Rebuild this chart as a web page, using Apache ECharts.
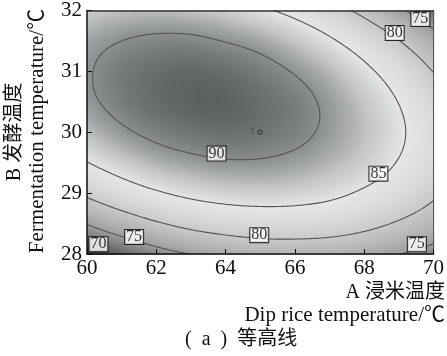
<!DOCTYPE html>
<html><head><meta charset="utf-8">
<script src="https://cdn.jsdelivr.net/npm/echarts/dist/echarts.min.js"></script>
<style>html,body{margin:0;padding:0;background:#fff}#c{width:447px;height:356px}</style>
</head><body><div id="c"></div>
<script>
// ---- data ----
const dipRiceTemp = [60, 61, 62, 63, 64, 65, 66, 67, 68, 69, 70];        // A, °C
const fermentTemp = [28, 28.5, 29, 29.5, 30, 30.5, 31, 31.5, 32];        // B, °C
// estimated response (one row per fermentation temperature, columns follow dipRiceTemp)
const respB280 = [68.5, 71.2, 73.4, 75.1, 76.3, 77.1, 77.3, 77.1, 76.4, 75.1, 73.4];
const respB285 = [75.2, 77.6, 79.6, 81.1, 82.0, 82.5, 82.5, 82.1, 81.1, 79.6, 77.7];
const respB290 = [80.7, 82.9, 84.6, 85.8, 86.5, 86.7, 86.5, 85.8, 84.5, 82.8, 80.6];
const respB295 = [84.9, 86.8, 88.3, 89.2, 89.7, 89.7, 89.2, 88.2, 86.8, 84.8, 82.4];
const respB300 = [87.8, 89.5, 90.7, 91.4, 91.7, 91.4, 90.7, 89.4, 87.7, 85.5, 82.8];
const respB305 = [89.4, 90.9, 91.9, 92.4, 92.4, 91.8, 90.9, 89.4, 87.4, 84.9, 82.0];
const respB310 = [89.7, 91.1, 91.8, 92.1, 91.8, 91.0, 89.8, 88.1, 85.8, 83.1, 79.9];
const respB315 = [89.0, 90.0, 90.5, 90.5, 89.9, 89.0, 87.5, 85.5, 83.0, 80.1, 76.6];
const respB320 = [87.0, 87.7, 87.9, 87.6, 86.9, 85.6, 83.9, 81.7, 78.9, 75.7, 72.0];
const responseRows = [respB280, respB285, respB290, respB295, respB300, respB305, respB310, respB315, respB320];

const contourLevels = [70, 75, 80, 85, 90];
const xTickValues = [60, 62, 64, 66, 68, 70];
const yTickValues = [28, 29, 30, 31, 32];
// contour label boxes
const labelDip  = [63.74, 68.41, 68.88, 69.62, 64.97, 61.36, 60.33, 69.52];
const labelFerm = [29.65, 29.32, 31.63, 31.86, 28.31, 28.28, 28.16, 28.16];
const labelText = ['90', '85', '80', '75', '80', '75', '70', '75'];
// centre design point and its replicate count
const centerPoint = [65, 30];
const centerRepeats = '5';

// ---- surface rendering helpers (smooth bicubic reconstruction of the grid) ----
const nx = dipRiceTemp.length, ny = fermentTemp.length;
const dA = dipRiceTemp[1] - dipRiceTemp[0], dB = fermentTemp[1] - fermentTemp[0];
function gv(i, j) {
  if (i < 0) return 3 * gv(0, j) - 3 * gv(1, j) + gv(2, j);
  if (i > nx - 1) return 3 * gv(nx - 1, j) - 3 * gv(nx - 2, j) + gv(nx - 3, j);
  if (j < 0) return 3 * gv(i, 0) - 3 * gv(i, 1) + gv(i, 2);
  if (j > ny - 1) return 3 * gv(i, ny - 1) - 3 * gv(i, ny - 2) + gv(i, ny - 3);
  return responseRows[j][i];
}
function cr(p0, p1, p2, p3, t) {
  return 0.5 * (2 * p1 + (-p0 + p2) * t + (2 * p0 - 5 * p1 + 4 * p2 - p3) * t * t + (-p0 + 3 * p1 - 3 * p2 + p3) * t * t * t);
}
function surf(A, B) {
  const u = (A - dipRiceTemp[0]) / dA, v = (B - fermentTemp[0]) / dB;
  let i = Math.min(Math.max(Math.floor(u), 0), nx - 2), j = Math.min(Math.max(Math.floor(v), 0), ny - 2);
  const t = u - i, s = v - j;
  const r = [];
  for (let k = -1; k <= 2; k++) r.push(cr(gv(i - 1, j + k), gv(i, j + k), gv(i + 1, j + k), gv(i + 2, j + k), t));
  return cr(r[0], r[1], r[2], r[3], s);
}
const A0 = dipRiceTemp[0], A1 = dipRiceTemp[nx - 1], B0 = fermentTemp[0], B1 = fermentTemp[ny - 1];

// shading cells
const CX = 120, CY = 96;
const cells = [];
for (let j = 0; j < CY; j++) for (let i = 0; i < CX; i++) {
  const a0 = A0 + (A1 - A0) * i / CX, a1 = A0 + (A1 - A0) * (i + 1) / CX;
  const b0 = B0 + (B1 - B0) * j / CY, b1 = B0 + (B1 - B0) * (j + 1) / CY;
  cells.push([a0, b0, a1, b1, surf((a0 + a1) / 2, (b0 + b1) / 2)]);
}

// contour lines (marching squares on the reconstructed surface)
const MX = 200, MY = 160;
const gx = [], gy = [], N = [];
for (let i = 0; i <= MX; i++) gx.push(A0 + (A1 - A0) * i / MX);
for (let j = 0; j <= MY; j++) gy.push(B0 + (B1 - B0) * j / MY);
for (let j = 0; j <= MY; j++) { const row = []; for (let i = 0; i <= MX; i++) row.push(surf(gx[i], gy[j])); N.push(row); }

function contourPaths(level) {
  const segs = [], map = {};
  const add = (k, si) => { (map[k] = map[k] || []).push(si); };
  const cross = (za, zb, pa, pb) => { const t = (level - za) / (zb - za); return [pa[0] + (pb[0] - pa[0]) * t, pa[1] + (pb[1] - pa[1]) * t]; };
  for (let j = 0; j < MY; j++) for (let i = 0; i < MX; i++) {
    const z00 = N[j][i], z10 = N[j][i + 1], z01 = N[j + 1][i], z11 = N[j + 1][i + 1];
    const c00 = z00 >= level, c10 = z10 >= level, c01 = z01 >= level, c11 = z11 >= level;
    const a0 = gx[i], a1 = gx[i + 1], b0 = gy[j], b1 = gy[j + 1];
    const e = [];
    if (c00 !== c10) e.push({ k: 'h' + i + '_' + j, p: cross(z00, z10, [a0, b0], [a1, b0]) });
    if (c10 !== c11) e.push({ k: 'v' + (i + 1) + '_' + j, p: cross(z10, z11, [a1, b0], [a1, b1]) });
    if (c01 !== c11) e.push({ k: 'h' + i + '_' + (j + 1), p: cross(z01, z11, [a0, b1], [a1, b1]) });
    if (c00 !== c01) e.push({ k: 'v' + i + '_' + j, p: cross(z00, z01, [a0, b0], [a0, b1]) });
    let pairs = [];
    if (e.length === 2) pairs = [[e[0], e[1]]];
    else if (e.length === 4) {
      const cc = (z00 + z10 + z01 + z11) / 4 >= level;
      pairs = (cc === c00) ? [[e[0], e[1]], [e[2], e[3]]] : [[e[3], e[0]], [e[1], e[2]]];
    }
    for (const pr of pairs) { const si = segs.length; segs.push(pr); add(pr[0].k, si); add(pr[1].k, si); }
  }
  const used = new Array(segs.length).fill(false);
  const paths = [];
  function walk(si, startEnd) {
    used[si] = true;
    const path = [segs[si][startEnd].p, segs[si][1 - startEnd].p];
    let key = segs[si][1 - startEnd].k;
    while (true) {
      const cand = (map[key] || []).filter(x => !used[x]);
      if (!cand.length) break;
      const n = cand[0]; used[n] = true;
      const end = segs[n][0].k === key ? 0 : 1;
      path.push(segs[n][1 - end].p);
      key = segs[n][1 - end].k;
    }
    paths.push(path);
  }
  for (let s = 0; s < segs.length; s++) {
    if (used[s]) continue;
    if (map[segs[s][0].k].length === 1) walk(s, 0);
    else if (map[segs[s][1].k].length === 1) walk(s, 1);
  }
  for (let s = 0; s < segs.length; s++) if (!used[s]) walk(s, 0);
  return paths;
}
const contourData = [];
contourLevels.forEach(l => contourPaths(l).forEach(p => contourData.push({ coords: p })));

const SERIF = '"Liberation Serif", "Noto Sans CJK SC", serif';
const chart = echarts.init(document.getElementById('c'), null, { renderer: 'canvas' });
const axisBase = {
  type: 'value', z: 10,
  axisLine: { show: true, lineStyle: { color: '#111', width: 1.5 } },
  splitLine: { show: false }
};
chart.setOption({
  animation: false,
  grid: { left: 87, right: 13, top: 10, bottom: 102 },
  xAxis: [
    Object.assign({}, axisBase, {
      min: xTickValues[0], max: xTickValues[xTickValues.length - 1], interval: xTickValues[1] - xTickValues[0],
      axisTick: { inside: true, length: 5, lineStyle: { color: '#111', width: 1 } },
      axisLabel: { fontSize: 21, fontFamily: SERIF, color: '#111', margin: 4 }
    }),
    Object.assign({}, axisBase, {
      position: 'top', min: xTickValues[0], max: xTickValues[xTickValues.length - 1],
      axisTick: { show: false }, axisLabel: { show: false },
      axisLine: { show: true, lineStyle: { color: '#333', width: 1.5 } }
    })
  ],
  yAxis: [
    Object.assign({}, axisBase, {
      min: yTickValues[0], max: yTickValues[yTickValues.length - 1], interval: yTickValues[1] - yTickValues[0],
      axisTick: { inside: true, length: 5, lineStyle: { color: '#111', width: 1 } },
      axisLabel: { fontSize: 21, fontFamily: SERIF, color: '#111', margin: 5 }
    }),
    Object.assign({}, axisBase, {
      position: 'right', min: yTickValues[0], max: yTickValues[yTickValues.length - 1],
      axisTick: { show: false }, axisLabel: { show: false },
      axisLine: { show: true, lineStyle: { color: '#555', width: 1 } }
    })
  ],
  visualMap: {
    type: 'continuous', show: false, seriesIndex: 0, dimension: 4, min: 67.5, max: 92.5,
    inRange: { color: ['#2a2a2a', '#4c4c4c', '#767676', '#9c9c9c', '#b4b4b4', '#c8c8c8', '#d9d9d9', '#e6e6e6', '#c4c6c6', '#8a8e8e', '#5c6161'] }
  },
  series: [
    {
      type: 'custom', silent: true, clip: true, z: 1,
      encode: { x: [0, 2], y: [1, 3] },
      data: cells,
      renderItem: function (params, api) {
        const p0 = api.coord([api.value(0), api.value(3)]);
        const p1 = api.coord([api.value(2), api.value(1)]);
        return { type: 'rect', shape: { x: p0[0], y: p0[1], width: p1[0] - p0[0] + 0.7, height: p1[1] - p0[1] + 0.7 },
                 style: { fill: api.visual('color') } };
      }
    },
    {
      type: 'lines', coordinateSystem: 'cartesian2d', polyline: true, silent: true, z: 3,
      lineStyle: { color: '#555', width: 1.1, opacity: 1 },
      data: contourData
    },
    {
      type: 'scatter', silent: true, z: 5, symbolSize: 1, itemStyle: { color: 'rgba(0,0,0,0)' },
      data: labelDip.map((a, i) => [a, labelFerm[i], labelText[i]]),
      label: {
        show: true, position: 'inside', formatter: p => p.value[2],
        fontSize: 16, fontFamily: SERIF, color: '#000', lineHeight: 13,
        backgroundColor: '#fff', borderColor: '#000', borderWidth: 1, padding: [1, 1, 0, 1]
      }
    },
    {
      type: 'scatter', silent: true, z: 5, symbol: 'circle', symbolSize: 4,
      itemStyle: { color: 'rgba(0,0,0,0)', borderColor: '#3a3a3a', borderWidth: 1.3 },
      data: [centerPoint],
      label: { show: true, position: 'left', distance: 3, formatter: centerRepeats, fontSize: 8, color: '#444', fontFamily: SERIF }
    }
  ],
  graphic: [
    { type: 'text', x: 445, y: 293, style: { text: 'A 浸米温度', font: '20px ' + SERIF, fill: '#111', align: 'right', verticalAlign: 'middle' } },
    { type: 'text', x: 445, y: 315, style: { text: 'Dip rice temperature/℃', font: '21px ' + SERIF, fill: '#111', align: 'right', verticalAlign: 'middle' } },
    { type: 'text', x: 185, y: 340, style: { text: '(  a  )  等高线', font: '20px ' + SERIF, fill: '#111', align: 'left', verticalAlign: 'middle' } },
    { type: 'text', x: 15, y: 132, rotation: Math.PI / 2, style: { text: 'B 发酵温度', font: '20px ' + SERIF, fill: '#111', align: 'center', verticalAlign: 'middle' } },
    { type: 'text', x: 37, y: 131, rotation: Math.PI / 2, style: { text: 'Fermentation temperature/℃', font: '21px ' + SERIF, fill: '#111', align: 'center', verticalAlign: 'middle' } }
  ]
});
</script>
</body></html>
